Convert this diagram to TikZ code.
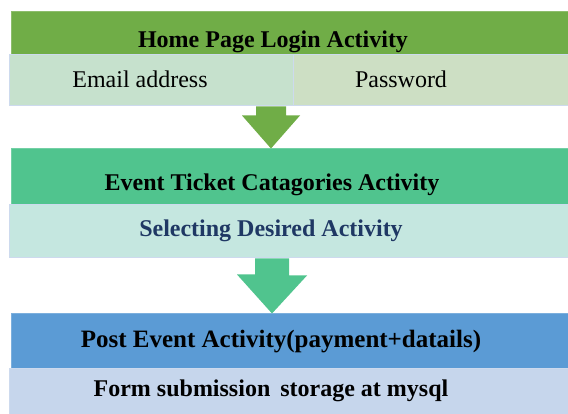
\documentclass[tikz,border=0pt]{standalone}
\usepackage{fontspec}
\setmainfont{Liberation Serif}
\usetikzlibrary{calc}
\definecolor{loggreen}{RGB}{112,173,71}
\definecolor{tixgreen}{RGB}{80,196,142}
\definecolor{postblue}{RGB}{91,155,213}
\definecolor{mailfill}{RGB}{198,225,205}
\definecolor{passfill}{RGB}{205,223,196}
\definecolor{selfill}{RGB}{197,231,224}
\definecolor{formfill}{RGB}{198,214,236}
\definecolor{edgeblue}{RGB}{205,218,238}
\definecolor{seltext}{RGB}{31,56,100}
\begin{document}
\begin{tikzpicture}[x=1pt, y=-1pt,
  bar/.style={rectangle, inner sep=0pt, draw=edgeblue, line width=1pt},
  title/.style={font=\fontsize{24}{28}\selectfont\bfseries},
  plain/.style={font=\fontsize{24}{28}\selectfont}]
  \useasboundingbox (0,0) rectangle (568,414);
  % Login stage
  \node[bar, fill=loggreen, draw=loggreen!80!white, minimum width=557pt, minimum height=43pt] (home) at (289.5,33.5) {};
  \node[bar, fill=mailfill, minimum width=284pt, minimum height=51pt] (email) at (151,80.5) {};
  \node[bar, fill=passfill, minimum width=275pt, minimum height=51pt] (pass) at (430.5,80.5) {};
  \node[title] (hometext) at (273,42) {Home Page Login Activity};
  \node[plain] (emailtext) at (140,79) {Email address};
  \node[plain] (passtext) at (401,79) {Password};
  % Ticket stage
  \node[bar, fill=tixgreen, draw=tixgreen!80!white, minimum width=557pt, minimum height=56pt] (ticket) at (289.5,177) {};
  \node[bar, fill=selfill, minimum width=559pt, minimum height=53pt] (select) at (288.5,231.5) {};
  \node[title] (tickettext) at (272,185) {Event Ticket Catagories Activity};
  \node[title, seltext] (selecttext) at (271,231) {Selecting Desired Activity};
  % Post stage
  \node[bar, fill=postblue, draw=postblue!80!white, minimum width=557pt, minimum height=54pt] (post) at (289.5,341) {};
  \node[bar, fill=formfill, minimum width=559pt, minimum height=46pt] (form) at (288.5,391) {};
  \node[title, font=\fontsize{25}{29}\selectfont\bfseries] (posttext) at (281,342) {Post Event Activity(payment+datails)};
  \node[title] (formtext) at (271,391) {Form submission\, storage at mysql};
  % Block arrows
  \coordinate (a1) at (email.south -| 271,0);
  \coordinate (a2) at (select.south -| 272,0);
  \fill[loggreen] (a1) ++(-15,0) -- ++(30,0) -- ++(0,9) -- ++(14,0)
    -- (ticket.north -| a1) -- ++(-29,-33) -- ++(14,0) -- cycle;
  \fill[tixgreen] (a2) ++(-17,0) -- ++(34,0) -- ++(0,17) -- ++(18,0)
    -- (post.north -| a2) -- ++(-35,-39) -- ++(18,0) -- cycle;
\end{tikzpicture}
\end{document}
